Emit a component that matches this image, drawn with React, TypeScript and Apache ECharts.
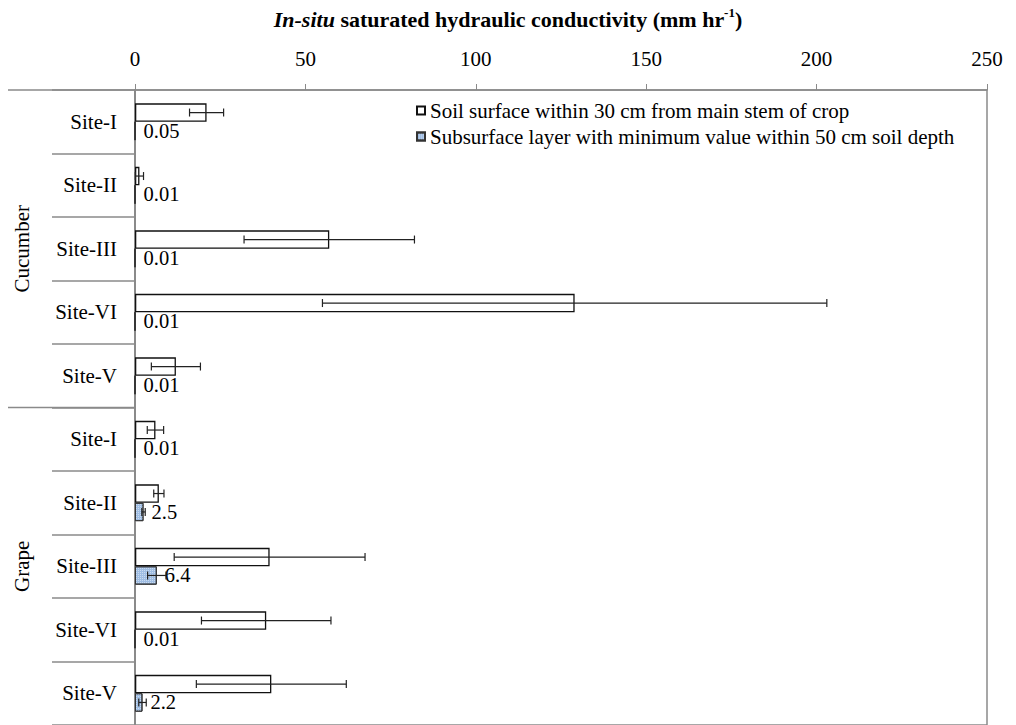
import React, { useEffect, useRef } from "react";
import * as echarts from "echarts";

// Crops and sites (rows top to bottom)
const crops = ["Cucumber", "Grape"];
const sites = ["Site-I", "Site-II", "Site-III", "Site-VI", "Site-V"];
const categories = [...sites, ...sites];

// In-situ Ks (mm/hr): soil surface within 30 cm of the main stem
const surfaceValues = [21, 1.3, 57, 129, 12, 6, 7, 39.5, 38.5, 40];
const surfaceErrors = [5, 1.2, 25, 74, 7.2, 2.4, 1.5, 28, 19, 22];

// Subsurface layer with minimum value within 50 cm depth
const subsurfaceValues = [0.05, 0.01, 0.01, 0.01, 0.01, 0.01, 2.5, 6.4, 0.01, 2.2];
const subsurfaceErrors = [0, 0, 0, 0, 0, 0, 0.5, 2.7, 0, 1.1];

const xTicks = { min: 0, max: 250, interval: 50 };

const surfaceName = "Soil surface within 30 cm from main stem of crop";
const subsurfaceName = "Subsurface layer with minimum value within 50 cm soil depth";

const FONT = "Liberation Serif";
const RICH_FONT = "Times New Roman";
const GRID_GRAY = "#8a8a8a";
const CATEGORY_GAP = 0.42;

function errorSeries(values: number[], errors: number[], sign: number, name: string) {
  return {
    type: "custom",
    name,
    z: 5,
    silent: true,
    encode: { x: 0, y: 1 },
    data: values.map((v, i) => [v, i, errors[i]]),
    renderItem: (_params: any, api: any) => {
      const v = api.value(0);
      const idx = api.value(1);
      const e = api.value(2);
      if (!e) return { type: "group", children: [] };
      const c = api.coord([v, idx]);
      const band = api.size([0, 1])[1];
      const bw = (band * (1 - CATEGORY_GAP)) / 2;
      const y = c[1] + (sign * bw) / 2;
      const lo = api.coord([v - e, idx])[0];
      const hi = api.coord([v + e, idx])[0];
      const style = { stroke: "#222", lineWidth: 1.2 };
      const cap = 4;
      return {
        type: "group",
        children: [
          { type: "line", shape: { x1: lo, y1: y, x2: hi, y2: y }, style },
          { type: "line", shape: { x1: lo, y1: y - cap, x2: lo, y2: y + cap }, style },
          { type: "line", shape: { x1: hi, y1: y - cap, x2: hi, y2: y + cap }, style },
        ],
      };
    },
  };
}

export default function App() {
  const ref = useRef<HTMLDivElement>(null);

  useEffect(() => {
    document.body.style.margin = "0";
    const chart = echarts.init(ref.current!, null, { renderer: "svg" });

    const option: any = {
      animation: false,
      backgroundColor: "#fff",
      textStyle: { fontFamily: FONT, color: "#000" },
      title: {
        text: "{i|In-situ}{b| saturated hydraulic conductivity (mm hr}{s|-1}{b|)}",
        left: "center",
        top: 1,
        textStyle: {
          fontFamily: RICH_FONT,
          fontWeight: "bold",
          fontSize: 22,
          rich: {
            i: { fontFamily: RICH_FONT, fontSize: 22, fontWeight: "bold", fontStyle: "italic", color: "#000", lineHeight: 26 },
            b: { fontFamily: RICH_FONT, fontSize: 22, fontWeight: "bold", fontStyle: "normal", color: "#000", lineHeight: 26 },
            s: { fontFamily: RICH_FONT, fontSize: 13, fontWeight: "bold", fontStyle: "normal", color: "#000", lineHeight: 15, verticalAlign: "top" },
          },
        },
      },
      legend: {
        data: [surfaceName, subsurfaceName],
        orient: "vertical",
        left: 416,
        top: 100,
        padding: 0,
        icon: "rect",
        itemWidth: 8,
        itemHeight: 8,
        itemGap: 5,
        selectedMode: false,
        formatter: (name: string) => `{t|${name}}`,
        textStyle: {
          fontFamily: RICH_FONT,
          fontSize: 21,
          color: "#000",
          rich: {
            t: { fontFamily: RICH_FONT, fontStyle: "normal", fontWeight: "normal", fontSize: 21, color: "#000", lineHeight: 21 },
          },
        },
      },
      grid: {
        left: 135,
        right: 29,
        top: 90,
        bottom: -6,
        show: true,
        borderColor: GRID_GRAY,
        borderWidth: 1.5,
        containLabel: false,
      },
      xAxis: {
        type: "value",
        position: "top",
        min: xTicks.min,
        max: xTicks.max,
        interval: xTicks.interval,
        axisLine: { show: true, lineStyle: { color: GRID_GRAY, width: 1.5 } },
        axisTick: { show: true, length: 6, lineStyle: { color: GRID_GRAY } },
        axisLabel: { fontFamily: FONT, fontSize: 21, color: "#000", margin: 21 },
        splitLine: { show: false },
      },
      yAxis: {
        type: "category",
        inverse: true,
        data: categories,
        axisLine: { show: true, lineStyle: { color: GRID_GRAY, width: 2 } },
        axisTick: { show: true, length: 83, interval: 0, lineStyle: { color: GRID_GRAY, width: 1.5 } },
        axisLabel: { fontFamily: FONT, fontSize: 21, color: "#000", margin: 18, interval: 0 },
      },
      series: [
        {
          type: "bar",
          name: surfaceName,
          data: surfaceValues,
          barGap: "0%",
          barCategoryGap: `${CATEGORY_GAP * 100}%`,
          itemStyle: { color: "#fff", borderColor: "#111", borderWidth: 1.3 },
        },
        {
          type: "bar",
          name: subsurfaceName,
          data: subsurfaceValues,
          barGap: "0%",
          barCategoryGap: `${CATEGORY_GAP * 100}%`,
          itemStyle: {
            color: "#9fbde3",
            borderColor: "#333",
            borderWidth: 1,
            decal: {
              symbol: "rect",
              symbolSize: 1,
              color: "rgba(255,255,255,0.45)",
              dashArrayX: [1, 1],
              dashArrayY: [1, 1],
              rotation: 0,
            },
          },
          label: {
            show: true,
            position: "right",
            distance: 8,
            fontFamily: FONT,
            fontSize: 20.5,
            color: "#000",
            formatter: (p: any) => String(subsurfaceValues[p.dataIndex]),
          },
        },
        errorSeries(surfaceValues, surfaceErrors, -1, "surface error"),
        errorSeries(subsurfaceValues, subsurfaceErrors, 1, "subsurface error"),
      ],
    };

    chart.setOption(option);

    // Group separators and crop labels, placed from the category axis
    const centerY = (i: number) => chart.convertToPixel({ yAxisIndex: 0 }, i) as number;
    const band = centerY(1) - centerY(0);
    const graphics: any[] = [];
    crops.forEach((crop, g) => {
      const first = g * sites.length;
      const last = first + sites.length - 1;
      const top = centerY(first) - band / 2;
      const mid = (centerY(first) + centerY(last)) / 2;
      graphics.push({
        type: "line",
        shape: { x1: 8, y1: top, x2: 135, y2: top },
        style: { stroke: GRID_GRAY, lineWidth: 1.5 },
      });
      graphics.push({
        type: "text",
        x: 22,
        y: mid,
        rotation: Math.PI / 2,
        style: {
          text: crop,
          font: `21px ${FONT}`,
          fill: "#000",
          align: "center",
          verticalAlign: "middle",
        },
      });
    });
    chart.setOption({ graphic: graphics });

    return () => chart.dispose();
  }, []);

  return <div ref={ref} style={{ width: 1016, height: 725 }} />;
}
